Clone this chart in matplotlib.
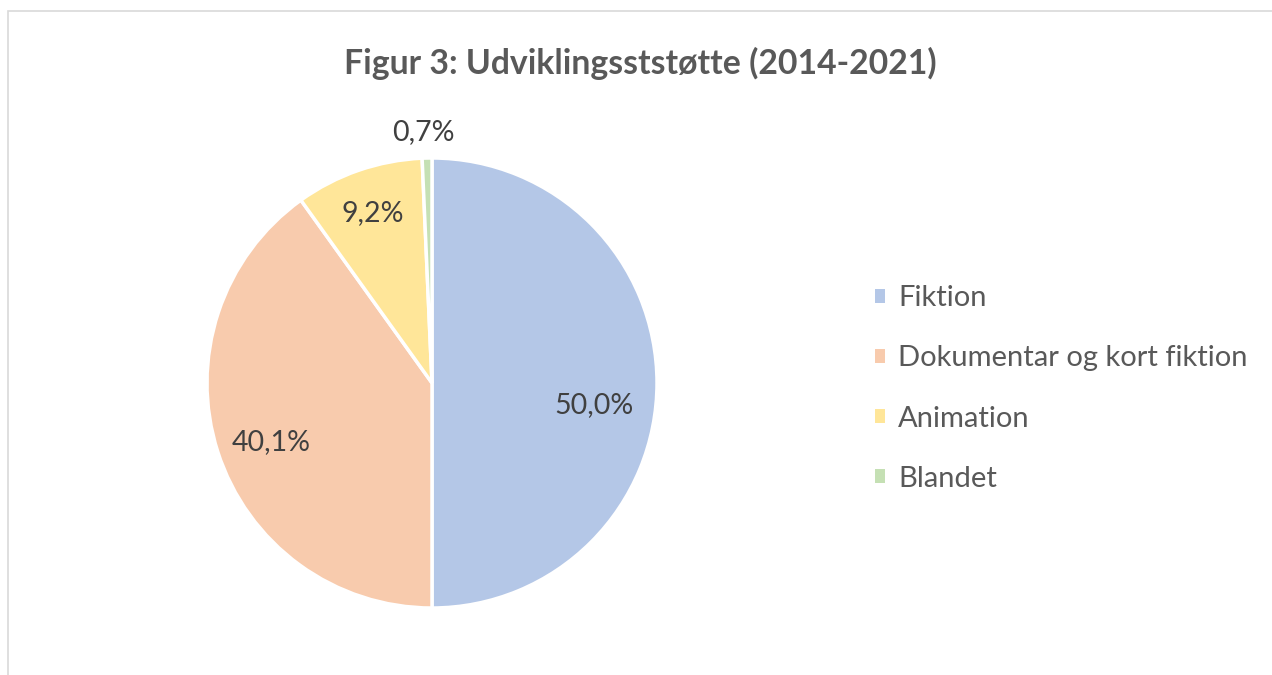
import matplotlib
matplotlib.use("Agg")
import matplotlib.pyplot as plt
import numpy as np
from matplotlib.patches import Rectangle, Patch

# --- data ---
categories = ["Fiktion", "Dokumentar og kort fiktion", "Animation", "Blandet"]
shares = [50.0, 40.1, 9.2, 0.7]
colors = ["#b4c7e7", "#f8cbad", "#ffe699", "#c5e0b4"]
title = "Figur 3: Udviklingsststøtte (2014-2021)"

text_color = "#595959"
label_color = "#404040"
plt.rcParams["font.family"] = ["Lato", "DejaVu Sans"]

fig = plt.figure(figsize=(12.72, 6.75), dpi=100)
W, H = 1272, 675

# light grey chart-area border (runs off the right / bottom edge)
fig.patches.append(Rectangle((8 / W, -0.1), 2.0, 1 - 11 / H + 0.1,
                             transform=fig.transFigure, fill=False,
                             edgecolor="#d9d9d9", linewidth=1.2))

# pie centred at (432, 383) px, radius 225 px
cx, cy, r = 432, 383, 225
ax = fig.add_axes([(cx - r) / W, (H - cy - r) / H, 2 * r / W, 2 * r / H])

wedges, _ = ax.pie(shares, colors=colors, startangle=90, counterclock=False,
                   radius=1, wedgeprops=dict(edgecolor="white", linewidth=2.5))
ax.set_xlim(-1, 1)
ax.set_ylim(-1, 1)
ax.set_aspect("equal")
ax.axis("off")

# data labels: distance from centre and small angle nudge (deg) per wedge
label_dist = [0.725, 0.76, 0.8, 1.115]
label_nudge = [-7.7, 2.4, 0.3, 0.8]
for w, val, d, nudge in zip(wedges, shares, label_dist, label_nudge):
    ang = np.deg2rad((w.theta1 + w.theta2) / 2 + nudge)
    ax.text(d * np.cos(ang), d * np.sin(ang), f"{val:.1f}%".replace(".", ","),
            ha="center", va="center", fontsize=20.5, color=label_color,
            clip_on=False)

fig.text(0.503, 1 - 63 / H, title, ha="center", va="center",
         fontsize=24.3, fontweight="bold", color=text_color)

handles = [Patch(facecolor=c, edgecolor="none") for c in colors]
fig.legend(handles, categories, loc="center left",
           bbox_to_anchor=(875 / W, 1 - 388.5 / H), frameon=False,
           borderpad=0, borderaxespad=0,
           fontsize=21, labelcolor=text_color, handlelength=0.35,
           handleheight=0.35, handletextpad=0.45, labelspacing=1.17)

fig.savefig("out.png", dpi=100)
